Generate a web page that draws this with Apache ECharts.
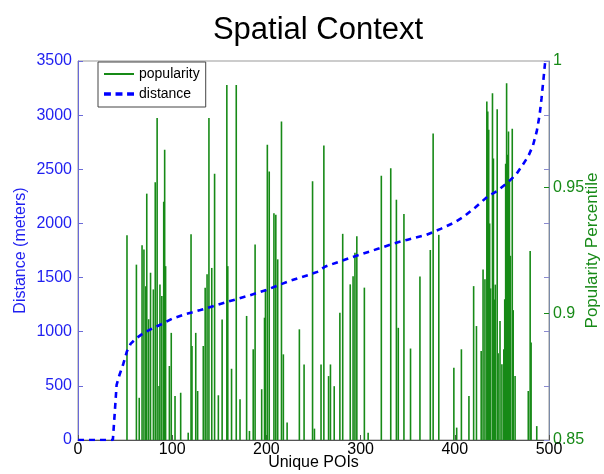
<!DOCTYPE html>
<html>
<head>
<meta charset="utf-8">
<script src="https://cdn.jsdelivr.net/npm/echarts@6/dist/echarts.min.js"></script>
<style>
html,body{margin:0;padding:0;background:#fff;}
#chart{width:604px;height:474px;}
</style>
</head>
<body>
<div id="chart"></div>
<script>
// Distance curve (sorted)
const distX = [0,37,39,41,44,48,52,56,62,70,80,90,100,115,130,145,160,180,200,210,225,245,255,262,275,295,320,335,350,370,385,400,410,422,435,445,455,465,472,478,483,487,490,492,494,496];
const distY = [0,0,250,510,600,700,820,890,940,990,1035,1075,1120,1165,1200,1240,1280,1330,1385,1420,1470,1525,1555,1600,1640,1700,1770,1815,1850,1895,1950,2010,2065,2150,2250,2300,2370,2450,2540,2620,2720,2850,3000,3150,3320,3500];

// Popularity percentile stems
const popX = [52,62,65,68,70,72,73,75,77,80,82,84,86,87,89,91,92,93,97,99,103,109,117,120,121,125,127,133,135,137,139,142,145,149,153,158,159,163,168,172,179,182,186,188,195,198,199,201,203,208,210,212,216,218,222,235,240,249,251,258,261,266,268,272,278,281,289,292,294,296,304,308,322,332,338,340,346,353,363,374,377,383,399,402,407,415,420,423,428,430,432,434,435,436,437,438,440,441,442,443,445,446,448,450,452,453,454,455,456,457,458,459,461,462,464,478,480,481,487];
const popY = [0.9310,0.9194,0.8667,0.9271,0.9254,0.9109,0.9475,0.8978,0.9162,0.9096,0.9520,0.9774,0.8714,0.9115,0.9070,0.9443,0.9649,0.9188,0.8793,0.8924,0.8674,0.8687,0.8529,0.9314,0.8872,0.8924,0.8694,0.8872,0.9103,0.9156,0.9774,0.9181,0.9554,0.8677,0.8977,0.9905,0.9188,0.8782,0.9905,0.8661,0.8991,0.8536,0.8859,0.9274,0.8701,0.8984,0.9096,0.9669,0.9563,0.9397,0.9391,0.9215,0.9761,0.8839,0.8569,0.8938,0.8799,0.9524,0.8545,0.8799,0.9666,0.8753,0.8799,0.8713,0.9004,0.9316,0.9116,0.9148,0.9241,0.9306,0.9103,0.8529,0.9546,0.9576,0.9451,0.8944,0.9394,0.8862,0.9147,0.9252,0.9713,0.9312,0.8786,0.8549,0.8859,0.8674,0.9109,0.8951,0.8852,0.9175,0.9136,0.9840,0.9800,0.9728,0.9357,0.9100,0.9872,0.9614,0.9056,0.9115,0.9809,0.8843,0.8971,0.8800,0.8859,0.9057,0.9593,0.9912,0.9629,0.9721,0.9529,0.9229,0.9732,0.9014,0.8753,0.8694,0.9248,0.8886,0.8555];

const xTicks = [0,100,200,300,400,500];
const leftTicks = [0,500,1000,1500,2000,2500,3000,3500];
const rightTicks = [0.85,0.9,0.95,1];

const FONT = 'Liberation Sans, Arial, sans-serif';
const BLUE = '#1f1ff0';
const GREEN = '#178a17';

const chart = echarts.init(document.getElementById('chart'), null, {renderer:'canvas'});
chart.setOption({
  animation:false,
  backgroundColor:'#fff',
  title:{text:'Spatial Context', left:313, top:10, textAlign:'center',
    textStyle:{fontFamily:FONT, fontSize:31, fontWeight:'normal', color:'#000'}},
  legend:{
    left:98, top:62, orient:'vertical', backgroundColor:'#fff',
    borderColor:'#444', borderWidth:1, padding:[5,6,6,6], itemGap:6,
    itemWidth:30, itemHeight:14,
    textStyle:{fontFamily:FONT, fontSize:14, color:'#000'},
    data:[
      {name:'popularity', icon:'path://M0,6H30V8H0Z'},
      {name:'distance', icon:'path://M0,5.5H6V8.5H0ZM10,5.5H16V8.5H10ZM20,5.5H26V8.5H20Z', itemStyle:{color:'#0000ff'}}
    ]
  },
  grid:{left:78, right:55, top:61, bottom:34, show:true, borderColor:'#999', borderWidth:1,
    containLabel:false, outerBoundsMode:'none'},
  xAxis:[{
    type:'value', min:0, max:500, interval:100,
    name:'Unique POIs', nameLocation:'middle', nameGap:15, nameMoveOverlap:false,
    nameTextStyle:{fontFamily:FONT, fontSize:16, color:'#000', verticalAlign:'top'},
    axisLine:{show:true, lineStyle:{color:'#555'}},
    axisTick:{show:true, inside:true, length:5, lineStyle:{color:'#555'}},
    axisLabel:{fontFamily:FONT, fontSize:16, color:'#000', margin:2},
    splitLine:{show:false}
  }],
  yAxis:[{
    type:'value', min:0, max:3500, interval:500, position:'left',
    name:'Distance (meters)', nameLocation:'middle', nameGap:49, nameMoveOverlap:false,
    nameTextStyle:{fontFamily:FONT, fontSize:16, color:BLUE},
    axisLine:{show:true, lineStyle:{color:'#6a6ad8'}},
    axisTick:{show:true, inside:true, length:5, lineStyle:{color:'#6a6ad8'}},
    axisLabel:{fontFamily:FONT, fontSize:16, color:BLUE, margin:6,
      formatter:function(v){ return String(v); }},
    splitLine:{show:false}
  },{
    type:'value', min:0.85, max:1, interval:0.05, position:'right',
    name:'Popularity Percentile', nameLocation:'middle', nameGap:35, nameMoveOverlap:false,
    nameRotate:90,
    nameTextStyle:{fontFamily:FONT, fontSize:17, color:GREEN},
    axisLine:{show:true, lineStyle:{color:'#7a8aa8'}},
    axisTick:{show:true, inside:true, length:5, lineStyle:{color:GREEN}},
    axisLabel:{fontFamily:FONT, fontSize:16, color:GREEN, margin:4,
      formatter:function(v){ return String(+v.toFixed(2)); }},
    splitLine:{show:false}
  },{
    type:'value', min:0, max:3500, interval:500, position:'right',
    axisLine:{show:false},
    axisTick:{show:true, inside:true, length:5, lineStyle:{color:'#8a8ad0'}},
    axisLabel:{show:false}, splitLine:{show:false}
  }],
  series:[{
    name:'popularity', type:'custom', xAxisIndex:0, yAxisIndex:1,
    itemStyle:{color:GREEN},
    encode:{x:0, y:1},
    data: popX.map((x,i)=>[x, popY[i]]),
    renderItem:function(params, api){
      const x = api.value(0), v = api.value(1);
      const p0 = api.coord([x, 0.85]);
      const p1 = api.coord([x, v]);
      return {type:'line', shape:{x1:p0[0], y1:p0[1], x2:p1[0], y2:p1[1]},
        style:{stroke:GREEN, lineWidth:1.6}};
    },
    z:2
  },{
    name:'distance', type:'line', xAxisIndex:0, yAxisIndex:0,
    data: distX.map((x,i)=>[x, distY[i]]),
    symbol:'none', smooth:false,
    lineStyle:{color:'#0000ff', width:2.6, type:[6,5]},
    itemStyle:{color:'#0000ff'},
    z:3
  }]
});
</script>
</body>
</html>
